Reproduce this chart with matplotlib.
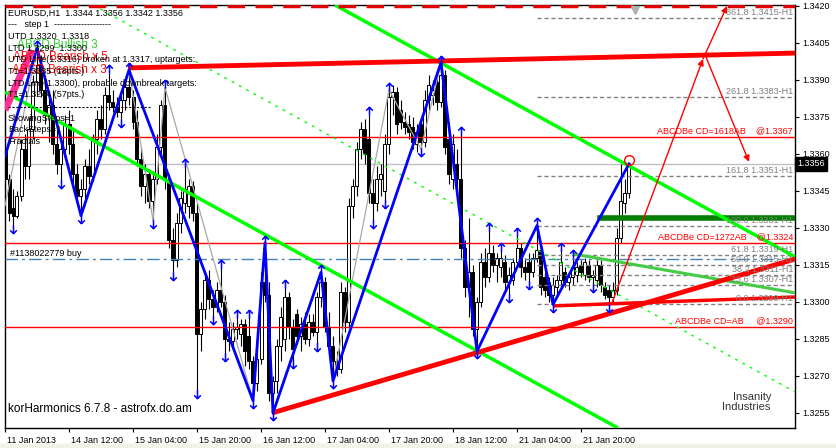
import matplotlib
matplotlib.use("Agg")
import matplotlib.pyplot as plt
import matplotlib.transforms as mtransforms
from matplotlib.lines import Line2D
from matplotlib.path import Path
import numpy as np

plt.rcParams['font.family'] = ['Liberation Sans', 'DejaVu Sans']

# --- H1 candles, one entry per bar (bar 0 = 11 Jan 2013 20:00) ---
bar_open = [
    1.3362, 1.3350, 1.3338, 1.3335, 1.3343, 1.3362, 1.3355, 1.3370, 1.3389, 1.3396,
    1.3386, 1.3376, 1.3380, 1.3364, 1.3356, 1.3362, 1.3372, 1.3364, 1.3352, 1.3343,
    1.3346, 1.3355, 1.3351, 1.3366, 1.3374, 1.3370, 1.3384, 1.3381, 1.3379, 1.3377,
    1.3382, 1.3387, 1.3383, 1.3373, 1.3358, 1.3347, 1.3352, 1.3341, 1.3350, 1.3363,
    1.3380, 1.3350, 1.3325, 1.3317, 1.3332, 1.3340, 1.3339, 1.3347, 1.3336, 1.3287,
    1.3297, 1.3309, 1.3301, 1.3298, 1.3305, 1.3300, 1.3285, 1.3284, 1.3289, 1.3287,
    1.3291, 1.3286, 1.3276, 1.3267, 1.3277, 1.3308, 1.3303, 1.3263, 1.3268, 1.3282,
    1.3285, 1.3302, 1.3290, 1.3295, 1.3286, 1.3291, 1.3285, 1.3292, 1.3288, 1.3302,
    1.3308, 1.3290, 1.3282, 1.3276, 1.3273, 1.3304, 1.3292, 1.3339, 1.3347, 1.3362,
    1.3370, 1.3366, 1.3344, 1.3340, 1.3350, 1.3345, 1.3364, 1.3383, 1.3385, 1.3378,
    1.3373, 1.3372, 1.3371, 1.3364, 1.3372, 1.3365, 1.3382, 1.3384, 1.3389, 1.3381,
    1.3392, 1.3366, 1.3350, 1.3356, 1.3350, 1.3322, 1.3306, 1.3312, 1.3289, 1.3300,
    1.3316, 1.3310, 1.3320, 1.3315, 1.3314, 1.3316, 1.3308, 1.3309, 1.3316, 1.3322,
    1.3314, 1.3316, 1.3312, 1.3318, 1.3321, 1.3310, 1.3308, 1.3303, 1.3306, 1.3309,
    1.3312, 1.3308, 1.3310, 1.3311, 1.3315, 1.3311, 1.3315, 1.3310, 1.3309, 1.3315,
    1.3306, 1.3305, 1.3302, 1.3305, 1.3326, 1.3340, 1.3344]
bar_high = [
    1.3368, 1.3352, 1.3346, 1.3345, 1.3366, 1.3368, 1.3375, 1.3392, 1.3403, 1.3400,
    1.3392, 1.3384, 1.3386, 1.3370, 1.3366, 1.3376, 1.3378, 1.3370, 1.3356, 1.3350,
    1.3358, 1.3362, 1.3368, 1.3378, 1.3380, 1.3387, 1.3393, 1.3386, 1.3383, 1.3384,
    1.3390, 1.3394, 1.3386, 1.3378, 1.3363, 1.3356, 1.3354, 1.3353, 1.3368, 1.3382,
    1.3387, 1.3352, 1.3330, 1.3336, 1.3345, 1.3355, 1.3350, 1.3349, 1.3340, 1.3300,
    1.3312, 1.3313, 1.3305, 1.3308, 1.3314, 1.3303, 1.3292, 1.3292, 1.3294, 1.3293,
    1.3293, 1.3294, 1.3278, 1.3281, 1.3312, 1.3324, 1.3308, 1.3270, 1.3285, 1.3298,
    1.3306, 1.3304, 1.3293, 1.3297, 1.3294, 1.3296, 1.3295, 1.3295, 1.3304, 1.3312,
    1.3310, 1.3296, 1.3286, 1.3280, 1.3308, 1.3306, 1.3342, 1.3350, 1.3365, 1.3373,
    1.3374, 1.3376, 1.3350, 1.3355, 1.3356, 1.3368, 1.3386, 1.3388, 1.3387, 1.3382,
    1.3377, 1.3376, 1.3375, 1.3372, 1.3374, 1.3386, 1.3392, 1.3390, 1.3392, 1.3397,
    1.3394, 1.3370, 1.3368, 1.3362, 1.3368, 1.3325, 1.3334, 1.3315, 1.3302, 1.3320,
    1.3322, 1.3329, 1.3323, 1.3320, 1.3321, 1.3319, 1.3314, 1.3318, 1.3327, 1.3324,
    1.3318, 1.3320, 1.3320, 1.3331, 1.3323, 1.3312, 1.3310, 1.3310, 1.3311, 1.3321,
    1.3314, 1.3312, 1.3318, 1.3316, 1.3317, 1.3318, 1.3317, 1.3313, 1.3317, 1.3317,
    1.3308, 1.3307, 1.3308, 1.3330, 1.3356, 1.3350, 1.3356]
bar_low = [
    1.3345, 1.3333, 1.3331, 1.3334, 1.3341, 1.3350, 1.3350, 1.3366, 1.3384, 1.3383,
    1.3372, 1.3365, 1.3360, 1.3352, 1.3349, 1.3358, 1.3360, 1.3348, 1.3340, 1.3335,
    1.3342, 1.3348, 1.3349, 1.3360, 1.3366, 1.3368, 1.3378, 1.3377, 1.3375, 1.3374,
    1.3378, 1.3380, 1.3370, 1.3355, 1.3343, 1.3340, 1.3338, 1.3333, 1.3348, 1.3360,
    1.3346, 1.3322, 1.3312, 1.3314, 1.3328, 1.3336, 1.3334, 1.3333, 1.3264, 1.3280,
    1.3293, 1.3297, 1.3294, 1.3296, 1.3298, 1.3279, 1.3280, 1.3281, 1.3285, 1.3282,
    1.3274, 1.3273, 1.3260, 1.3264, 1.3275, 1.3300, 1.3260, 1.3255, 1.3263, 1.3276,
    1.3280, 1.3285, 1.3276, 1.3283, 1.3280, 1.3283, 1.3282, 1.3286, 1.3283, 1.3298,
    1.3288, 1.3279, 1.3268, 1.3270, 1.3271, 1.3288, 1.3290, 1.3334, 1.3343, 1.3358,
    1.3356, 1.3340, 1.3333, 1.3337, 1.3343, 1.3341, 1.3360, 1.3376, 1.3368, 1.3370,
    1.3368, 1.3366, 1.3362, 1.3361, 1.3362, 1.3363, 1.3378, 1.3380, 1.3378, 1.3379,
    1.3360, 1.3348, 1.3346, 1.3344, 1.3318, 1.3302, 1.3294, 1.3286, 1.3280, 1.3298,
    1.3306, 1.3308, 1.3312, 1.3308, 1.3310, 1.3305, 1.3303, 1.3307, 1.3314, 1.3310,
    1.3309, 1.3308, 1.3310, 1.3316, 1.3303, 1.3302, 1.3300, 1.3299, 1.3303, 1.3306,
    1.3306, 1.3305, 1.3307, 1.3308, 1.3310, 1.3309, 1.3308, 1.3307, 1.3306, 1.3304,
    1.3301, 1.3299, 1.3300, 1.3303, 1.3324, 1.3336, 1.3342]
bar_close = [
    1.3350, 1.3336, 1.3335, 1.3343, 1.3362, 1.3355, 1.3370, 1.3389, 1.3396, 1.3386,
    1.3376, 1.3380, 1.3364, 1.3356, 1.3362, 1.3372, 1.3364, 1.3352, 1.3343, 1.3346,
    1.3355, 1.3351, 1.3366, 1.3374, 1.3370, 1.3384, 1.3381, 1.3379, 1.3377, 1.3382,
    1.3387, 1.3383, 1.3373, 1.3358, 1.3347, 1.3352, 1.3341, 1.3350, 1.3363, 1.3380,
    1.3350, 1.3325, 1.3317, 1.3332, 1.3342, 1.3346, 1.3347, 1.3336, 1.3287, 1.3297,
    1.3309, 1.3301, 1.3298, 1.3305, 1.3300, 1.3285, 1.3284, 1.3289, 1.3290, 1.3291,
    1.3280, 1.3276, 1.3267, 1.3277, 1.3308, 1.3303, 1.3263, 1.3268, 1.3282, 1.3294,
    1.3302, 1.3290, 1.3281, 1.3286, 1.3291, 1.3285, 1.3292, 1.3288, 1.3302, 1.3308,
    1.3290, 1.3282, 1.3276, 1.3273, 1.3304, 1.3292, 1.3339, 1.3347, 1.3362, 1.3370,
    1.3360, 1.3344, 1.3340, 1.3350, 1.3352, 1.3364, 1.3383, 1.3385, 1.3372, 1.3373,
    1.3371, 1.3369, 1.3365, 1.3369, 1.3365, 1.3382, 1.3388, 1.3386, 1.3381, 1.3392,
    1.3363, 1.3352, 1.3364, 1.3350, 1.3322, 1.3306, 1.3312, 1.3289, 1.3300, 1.3316,
    1.3310, 1.3320, 1.3315, 1.3318, 1.3318, 1.3308, 1.3311, 1.3316, 1.3322, 1.3314,
    1.3312, 1.3312, 1.3318, 1.3321, 1.3306, 1.3305, 1.3303, 1.3307, 1.3309, 1.3316,
    1.3308, 1.3310, 1.3314, 1.3314, 1.3312, 1.3316, 1.3310, 1.3311, 1.3315, 1.3307,
    1.3303, 1.3302, 1.3305, 1.3326, 1.3341, 1.3344, 1.3356]

# zigzag (blue) and fractal-based zigzag (grey)
zz_bars = [0, 8, 19, 31, 62, 65, 67, 79, 82, 109, 118, 133, 137, 156]
zz_prices = [1.3359, 1.3403, 1.3335, 1.3394, 1.3260, 1.3324, 1.3255, 1.3312,
             1.3268, 1.3397, 1.3280, 1.3331, 1.3299, 1.3356]
grey_bars = [0, 8, 19, 31, 37, 40, 62, 65, 67, 79, 82, 96, 104, 109]
grey_prices = [1.3339, 1.3403, 1.3335, 1.3394, 1.3333, 1.3387, 1.3260, 1.3324,
               1.3255, 1.3312, 1.3268, 1.3386, 1.3362, 1.3397]

frac_up = [8, 26, 31, 40, 45, 54, 58, 61, 65, 70, 79, 91, 96, 109, 114, 121,
           124, 128, 133, 139, 142]
frac_down = [2, 14, 19, 29, 37, 42, 48, 52, 55, 62, 67, 72, 78, 82, 92, 95, 104,
             118, 126, 131, 137, 147, 151]

# horizontal levels
red_levels = [1.3367, 1.3324, 1.3290]
red_level_texts = ['ABCDBe CD=1618AB    @1.3367', 'ABCDBe CD=1272AB    @1.3324',
                   'ABCDBe CD=AB     @1.3290']
fib_ratios = ['361.8', '261.8', '161.8', '100.0', '61.8', '50.0', '38.2', '23.6', '0.0']
fib_prices = [1.3415, 1.3383, 1.3351, 1.3331, 1.3319, 1.3315, 1.3311, 1.3307, 1.3299]
bid_price = 1.3356
order_price = 1.33175

# trend lines: (bar0, price0, bar1, price1)
green_upper = (82.5, 1.34204, 197.5, 1.33183)
green_lower = (0.0, 1.33851, 153.25, 1.32489)
green_mid = (22.0, 1.34204, 197.5, 1.32635)
green_light = (142.0, 1.33195, 197.5, 1.33037)
red_top = (30.75, 1.33949, 197.5, 1.34009)
red_bottom = (66.75, 1.32550, 197.5, 1.33174)
red_base = (137.0, 1.32984, 197.5, 1.33020)
pink_line = (0.0, 1.33778, 6.75, 1.34022)
proj_path = [(151.75, 1.32996), (174.5, 1.33985), (180.5, 1.34200)]
proj_down = [(175.25, 1.33993), (186.0, 1.33568)]
green_box = (148.75, 1.33342, 197.5)

time_ticks = [0, 16, 32, 48, 64, 80, 96, 112, 128, 144]
time_labels = ['11 Jan 2013', '14 Jan 12:00', '15 Jan 04:00', '15 Jan 20:00',
               '16 Jan 12:00', '17 Jan 04:00', '17 Jan 20:00', '18 Jan 12:00',
               '21 Jan 04:00', '21 Jan 20:00']
price_ticks = [1.3255, 1.3270, 1.3285, 1.3300, 1.3315, 1.3330, 1.3345,
               1.3360, 1.3375, 1.3390, 1.3405, 1.3420]

comment_lines = [
    'EURUSD,H1  1.3344 1.3356 1.3342 1.3356',
    '---   step 1  -------------------',
    'UTD 1.3320  1.3318',
    'LTD 1.3299  1.3300',
    'UTD Line(1.3316) broken at 1.3317, uptargets:',
    'T1=1.3335 (18pts.)',
    'LTD Line(1.3300), probable downbreak targets:',
    'T1=1.3244 (57pts.)',
    '',
    'ShowingSteps=1',
    'BackSteps=1',
    'Fractals',
]

W, H = 837, 448
fig = plt.figure(figsize=(W / 100, H / 100), dpi=100)
fig.patch.set_facecolor('white')
ax = fig.add_axes([5 / W, 20 / H, 790 / W, 423 / H])
ax.set_xlim(0, 197.5)
ax.set_ylim(1.32489, 1.34204)
FS = 6.5


def px(x, y):
    # figure pixel position (from top-left) -> figure fraction
    return x / W, 1 - y / H


def seg(line, **kw):
    ax.plot([line[0], line[2]], [line[1], line[3]], solid_capstyle='butt', **kw)


# MT4 style fractal arrows: chevron with a stem
up_arrow = Path([(0, -1), (0, 1), (-0.8, 0.2), (0, 1), (0.8, 0.2)],
                [Path.MOVETO, Path.LINETO, Path.MOVETO, Path.LINETO, Path.LINETO])
down_arrow = Path([(0, 1), (0, -1), (-0.8, -0.2), (0, -1), (0.8, -0.2)],
                  [Path.MOVETO, Path.LINETO, Path.MOVETO, Path.LINETO, Path.LINETO])

# candles
o, hi, lo, c = map(np.array, (bar_open, bar_high, bar_low, bar_close))
idx = np.arange(len(o))
bull = c >= o
ax.vlines(idx, lo, hi, color='black', lw=0.8, zorder=3)
body = np.maximum(np.abs(c - o), 0.00003)
ax.bar(idx, body, bottom=np.minimum(o, c), width=0.75,
       color=np.where(bull, 'white', 'black'), edgecolor='black', lw=0.7, zorder=4)

# horizontal lines
for lvl in red_levels:
    ax.axhline(lvl, color='#FF0000', lw=1, zorder=5)
ax.axhline(bid_price, color='#C0C0C0', lw=1, zorder=2)
ax.axhline(order_price, color='#4682B4', lw=1, ls=(0, (9, 3, 2, 3)), zorder=5)
ax.axhline(1.34199, color='#E00000', lw=2.5, ls=(0, (5, 3)), zorder=7)
for p in fib_prices:
    ax.plot([133, 197.5], [p, p], color='#808080', lw=1, ls=(0, (3, 2)), zorder=5)
ax.plot([green_box[0], green_box[2]], [green_box[1]] * 2, color='#007F00', lw=4, zorder=6)

# channel and trend lines
seg(green_upper, color='#00FF00', lw=2.5, zorder=6)
seg(green_lower, color='#00FF00', lw=2.5, zorder=6)
seg(green_mid, color='#00FF00', lw=1, ls=(0, (2, 4)), zorder=6)
seg(green_light, color='#44CC44', lw=2.2, zorder=6)
seg(red_top, color='#FF0000', lw=3.5, zorder=6)
seg(red_bottom, color='#FF0000', lw=3.5, zorder=6)
seg(red_base, color='#FF0000', lw=2.5, zorder=6)
seg(pink_line, color='#FF2D96', lw=5, zorder=9)

# projection arrows
for a, b in zip(proj_path[:-1], proj_path[1:]):
    ax.annotate('', xy=b, xytext=a, zorder=7,
                arrowprops=dict(arrowstyle='-|>', color='#FF0000', lw=1,
                                mutation_scale=9, shrinkA=0, shrinkB=0))
ax.annotate('', xy=proj_down[1], xytext=proj_down[0], zorder=7,
            arrowprops=dict(arrowstyle='-|>', color='#FF0000', lw=1,
                            mutation_scale=9, shrinkA=0, shrinkB=0))

# zigzags
ax.plot(grey_bars, grey_prices, color='#A8A8A8', lw=0.9, zorder=5)
ax.plot(zz_bars, zz_prices, color='#0000FF', lw=2, zorder=8)
ax.plot([156], [1.33575], marker='o', ms=7, mfc='none', mec='#FF0000', mew=1, zorder=9)
ax.plot([157.5], [1.34185], marker='v', ms=6, color='#B0B0B0', zorder=9, clip_on=False)

# fractal arrows
ax.plot(frac_up, hi[frac_up] + 0.00013, ls='none', marker=up_arrow, ms=6, mfc='none',
        mec='#0000FF', mew=1.1, zorder=9)
ax.plot(frac_down, lo[frac_down] - 0.00013, ls='none', marker=down_arrow, ms=6, mfc='none',
        mec='#0000FF', mew=1.1, zorder=9)

# level labels
for lvl, txt in zip(red_levels, red_level_texts):
    ax.text(197, lvl + 0.00006, txt, color='#FF0000', fontsize=FS, ha='right',
            va='bottom', zorder=10)
for r, p in zip(fib_ratios, fib_prices):
    ax.text(197, p + 0.00004, f'{r} {p:.4f}-H1', color='#808080', fontsize=FS,
            ha='right', va='bottom', zorder=10)

# comment block
for k, line in enumerate(comment_lines):
    if line:
        fig.text(*px(8, 13 + 11.7 * k), line, fontsize=FS, va='center', color='black', zorder=10)
fig.add_artist(Line2D([8 / W, 150 / W], [1 - 107 / H] * 2, color='black', lw=0.8,
                      ls=(0, (2, 1.5))))
fig.text(*px(17, 45), 'ABCD Bullish 3', fontsize=8.5, color='#33CC33', va='center')
fig.text(*px(13, 57), 'ABCD Bearish x 5', fontsize=8.5, color='#FF0000', va='center')
fig.text(*px(12, 70), 'ABCD Bearish x 3', fontsize=8.5, color='#FF0000', va='center')
fig.text(*px(10, 254), '#1138022779 buy', fontsize=FS, va='center')
fig.text(*px(8, 409), 'korHarmonics 6.7.8 - astrofx.do.am', fontsize=8.5, va='center')
fig.text(*px(733, 397), 'Insanity', fontsize=8, color='#333333', va='center')
fig.text(*px(722, 407), 'Industries', fontsize=8, color='#333333', va='center')

# axes
for s in ax.spines.values():
    s.set_color('black')
    s.set_linewidth(1)
ax.yaxis.tick_right()
ax.set_yticks(price_ticks)
ax.set_yticklabels([f'{p:.4f}' for p in price_ticks], fontsize=FS)
ax.tick_params(axis='y', length=3, pad=2)
ax.set_xticks(time_ticks)
ax.set_xticklabels(time_labels, fontsize=FS)
ax.tick_params(axis='x', length=3, pad=3)
shift = mtransforms.ScaledTranslation(2 / 100, 0, fig.dpi_scale_trans)
for lab in ax.get_xticklabels():
    lab.set_horizontalalignment('left')
    lab.set_transform(lab.get_transform() + shift)

trans = mtransforms.blended_transform_factory(ax.transAxes, ax.transData)
ax.text(1.003, bid_price, '1.3356', transform=trans, fontsize=FS, color='white',
        va='center', ha='left', zorder=11,
        bbox=dict(boxstyle='square,pad=0.25', fc='black', ec='black'))

fig.patches.append(plt.Rectangle((0, 0), 1, 4 / H, transform=fig.transFigure,
                                 color='#F2F2E6', zorder=0))

fig.savefig('out.png', dpi=100)
